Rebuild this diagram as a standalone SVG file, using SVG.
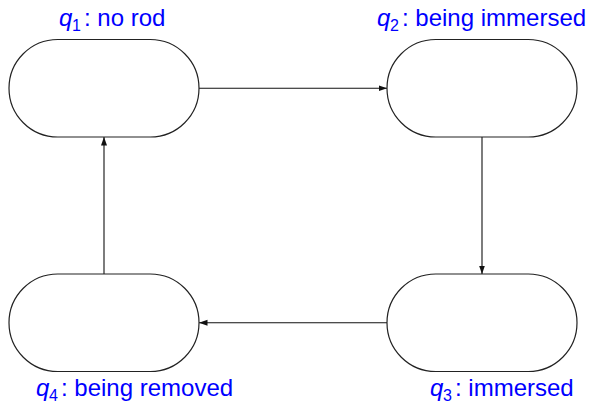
<svg xmlns="http://www.w3.org/2000/svg" width="591" height="403" viewBox="0 0 591 403">
  <style>
    .node { fill: #ffffff; stroke: #222222; stroke-width: 1.2; }
    .edge { fill: none; stroke: #111111; stroke-width: 1.1; marker-end: url(#arrow); }
    .lbl { font-family: "Liberation Sans", Arial, sans-serif; font-size: 24px; fill: #0000ff; }
    .q { font-style: italic; }
    .sub { font-size: 16px; }
  </style>
  <defs>
    <marker id="arrow" markerUnits="userSpaceOnUse" markerWidth="9" markerHeight="7" refX="8.5" refY="3.5" orient="auto">
      <path d="M0,0.5 L8.5,3.5 L0,6.5 Z" fill="#111111"/>
    </marker>
  </defs>

  <g id="connectors">
    <line class="edge" x1="199" y1="88.25" x2="387" y2="88.25"/>
    <line class="edge" x1="482" y1="137" x2="482" y2="274"/>
    <line class="edge" x1="387" y1="322.75" x2="199" y2="322.75"/>
    <line class="edge" x1="104" y1="274" x2="104" y2="137"/>
  </g>

  <g id="q1">
    <rect class="node" x="9" y="39.5" width="190" height="97.5" rx="48.75" ry="48.75"/>
    <text class="lbl q" x="59" y="26">q</text>
    <text class="lbl sub" x="72" y="31">1</text>
    <text class="lbl" x="84" y="26">: no rod</text>
  </g>

  <g id="q2">
    <rect class="node" x="387" y="39.5" width="190" height="97.5" rx="48.75" ry="48.75"/>
    <text class="lbl q" x="377" y="26">q</text>
    <text class="lbl sub" x="390" y="31">2</text>
    <text class="lbl" x="402" y="26">: being immersed</text>
  </g>

  <g id="q3">
    <rect class="node" x="387" y="274" width="190" height="97.5" rx="48.75" ry="48.75"/>
    <text class="lbl q" x="430" y="396">q</text>
    <text class="lbl sub" x="443" y="401">3</text>
    <text class="lbl" x="455" y="396">: immersed</text>
  </g>

  <g id="q4">
    <rect class="node" x="9" y="274" width="190" height="97.5" rx="48.75" ry="48.75"/>
    <text class="lbl q" x="36" y="396">q</text>
    <text class="lbl sub" x="49" y="401">4</text>
    <text class="lbl" x="61" y="396">: being removed</text>
  </g>
</svg>
